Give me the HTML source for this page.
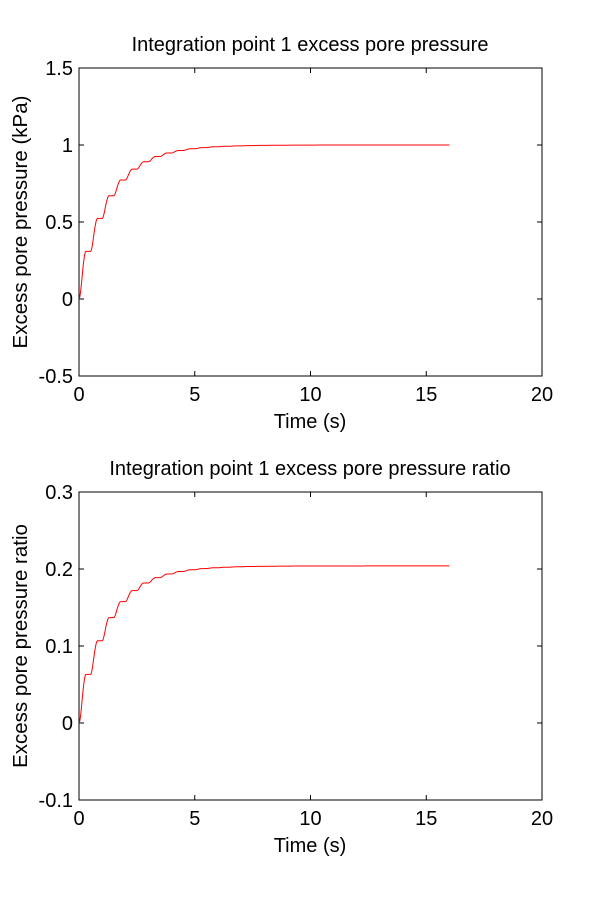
<!DOCTYPE html>
<html><head><meta charset="utf-8"><style>
body{margin:0;background:#fff;}
svg text{font-family:"Liberation Sans",Arial,sans-serif;fill:#000;}
</style></head><body>
<svg id="s" width="600" height="900" xmlns="http://www.w3.org/2000/svg">
<rect width="600" height="900" fill="#fff"/>
</svg>
<script>
const s=document.getElementById('s');
const NS='http://www.w3.org/2000/svg';
function el(t,a,txt){const e=document.createElementNS(NS,t);for(const k in a)e.setAttribute(k,a[k]);if(txt!==undefined)e.textContent=txt;s.appendChild(e);return e;}
function f(t){const P=0.5;const n=Math.floor(t/P);const fr=t/P-n;let u=Math.min(fr/0.6,1);u=u*u*(3-2*u);const r=P*(n+u);return 1-Math.exp(-r/1.35);}
function plot(top,ymin,ymax,yt,scale,title,ylab){
 const L=79,R=542,T=top,B=top+308;
 const X=v=>L+(v/20)*(R-L), Y=v=>B-(v-ymin)/(ymax-ymin)*(B-T);
 el('rect',{x:L,y:T,width:R-L,height:B-T,fill:'none',stroke:'#000','stroke-width':1});
 [0,5,10,15,20].forEach(v=>{const x=X(v);
  el('line',{x1:x,y1:B,x2:x,y2:B-5,stroke:'#000'});el('line',{x1:x,y1:T,x2:x,y2:T+5,stroke:'#000'});
  el('text',{x:x,y:B+25,'font-size':20,'text-anchor':'middle'},String(v));});
 yt.forEach(v=>{const y=Y(v);
  el('line',{x1:L,y1:y,x2:L+5,y2:y,stroke:'#000'});el('line',{x1:R,y1:y,x2:R-5,y2:y,stroke:'#000'});
  el('text',{x:L-6,y:y+7,'font-size':20,'text-anchor':'end'},String(v));});
 el('text',{x:310,y:B+52,'font-size':20,'text-anchor':'middle'},'Time (s)');
 el('text',{x:310,y:T-17,'font-size':20,'text-anchor':'middle'},title);
 el('text',{x:0,y:0,'font-size':20.5,'text-anchor':'middle',transform:`translate(27,${(T+B)/2}) rotate(-90)`},ylab);
 let d='';for(let t=0;t<=16;t+=0.01){d+=(d?'L':'M')+X(t).toFixed(2)+','+Y(f(t)*scale).toFixed(2);}
 el('path',{d:d,fill:'none',stroke:'#ff0000','stroke-width':1});
}
plot(68,-0.5,1.5,[-0.5,0,0.5,1,1.5],1,'Integration point 1 excess pore pressure','Excess pore pressure (kPa)');
plot(492,-0.1,0.3,[-0.1,0,0.1,0.2,0.3],0.204,'Integration point 1 excess pore pressure ratio','Excess pore pressure ratio');
</script>
</body></html>
